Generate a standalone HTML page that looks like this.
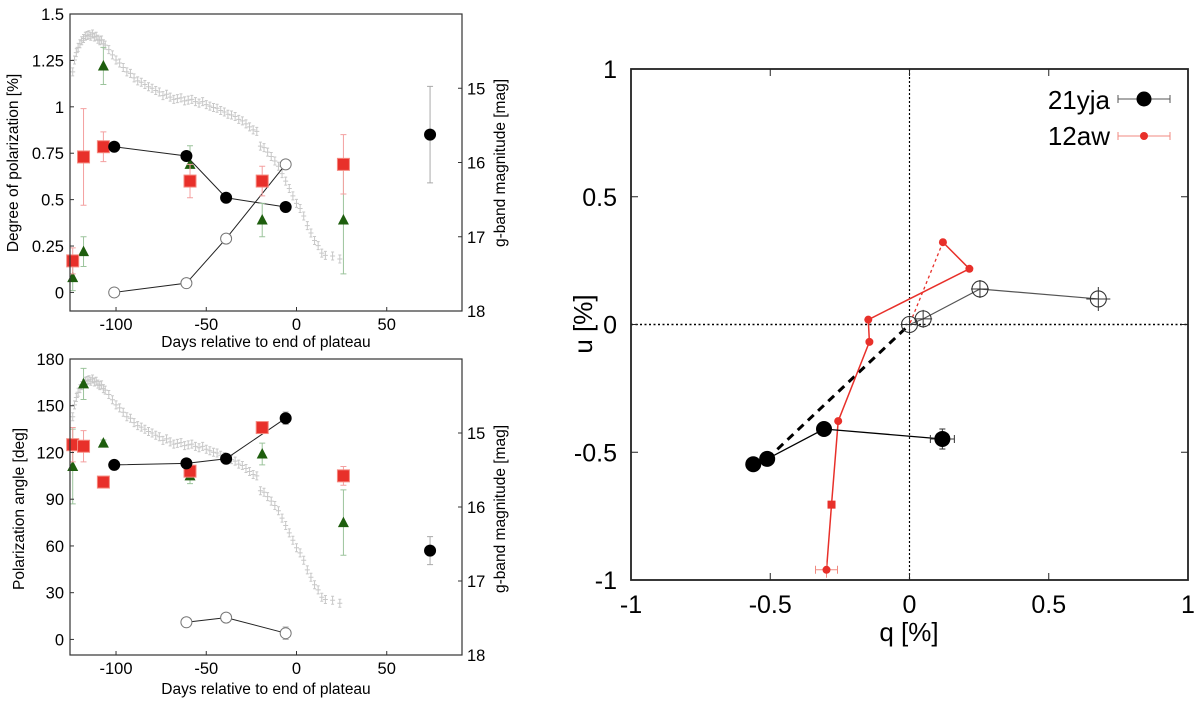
<!DOCTYPE html>
<html><head><meta charset="utf-8"><style>
html,body{margin:0;padding:0;background:#fff;}
svg{display:block;font-family:"Liberation Sans",Arial,sans-serif;}
</style></head><body>
<svg id="fig" width="1200" height="702" viewBox="0 0 1200 702" xmlns="http://www.w3.org/2000/svg"></svg>
<script>
// ---------- data ----------
const lcDays=[-124,-123,-122,-121,-120,-119,-118,-117,-116,-115,-114,-113,-112,-111,-110,-109,-108,-107,-106,-104,-102,-100,-98,-96,-94,-92,-90,-88,-86,-84,-82,-80,-78,-76,-74,-72,-70,-68,-66,-64,-62,-60,-58,-56,-54,-52,-50,-48,-46,-44,-42,-40,-38,-36,-34,-32,-30,-28,-26,-24,-22,-20,-18,-16,-14,-12,-10,-8,-6,-4,-2,0,2,4,6,8,10,12,14,16,20,24];
const lcMag=[14.78,14.62,14.52,14.45,14.40,14.36,14.33,14.30,14.29,14.28,14.30,14.27,14.31,14.30,14.34,14.36,14.35,14.40,14.42,14.48,14.55,14.62,14.66,14.72,14.78,14.80,14.86,14.90,14.92,14.95,14.98,15.00,15.03,15.05,15.10,15.08,15.12,15.15,15.14,15.13,15.17,15.16,15.15,15.18,15.20,15.18,15.22,15.24,15.26,15.27,15.30,15.32,15.35,15.36,15.38,15.42,15.44,15.48,15.52,15.56,15.58,15.78,15.80,15.86,15.92,15.98,16.05,16.15,16.25,16.35,16.45,16.55,16.62,16.72,16.85,16.95,17.05,17.12,17.22,17.25,17.26,17.30];
// polarization degree panel
const pdBlackDays=[-101,-61,-39,-6];
const pdBlackVals=[0.785,0.735,0.51,0.46];
const pdLateDay=[74];const pdLateVal=[0.85];const pdLateErr=[0.26];
const pdOpenDays=[-101,-61,-39,-6];
const pdOpenVals=[0.0,0.05,0.29,0.69];
const pdRedDays=[-124,-118,-107,-59,-19,26];
const pdRedVals=[0.17,0.73,0.785,0.60,0.60,0.69];
const pdRedErr=[0.07,0.26,0.08,0.09,0.08,0.16];
const pdGreenDays=[-124,-118,-107,-59,-19,26];
const pdGreenVals=[0.08,0.22,1.22,0.69,0.39,0.39];
const pdGreenErr=[0.07,0.08,0.10,0.10,0.09,0.29];
// angle panel
const paBlackDays=[-101,-61,-39,-6];
const paBlackVals=[112,113,116,142];
const paLateDay=[74];const paLateVal=[57];const paLateErr=[9];
const paOpenDays=[-61,-39,-6];
const paOpenVals=[11,14,4];
const paRedDays=[-124,-118,-107,-59,-19,26];
const paRedVals=[125,124,101,108,136,105];
const paRedErr=[11,10,1,3,2,6];
const paGreenDays=[-124,-118,-107,-59,-19,26];
const paGreenVals=[111,164,126,105,119,75];
const paGreenErr=[24,10,2,5,7,21];
// q-u plane
const yjaQ=[0.118,-0.307,-0.511,-0.561];
const yjaU=[-0.448,-0.409,-0.526,-0.547];
const yjaOpenQ=[0.0,0.049,0.253,0.678];
const yjaOpenU=[0.0,0.022,0.139,0.100];
const awQ=[0.12,0.215,-0.148,-0.144,-0.256,-0.28,-0.298];
const awU=[0.322,0.218,0.019,-0.068,-0.378,-0.705,-0.96];

// ---------- helpers ----------
const svg=document.getElementById('fig');
const NS='http://www.w3.org/2000/svg';
function mk(tag,attrs,parent){const e=document.createElementNS(NS,tag);for(const k in attrs)e.setAttribute(k,attrs[k]);(parent||svg).appendChild(e);return e;}
function txt(s,x,y,size,anchor,parent,rot){const t=mk('text',{x:x,y:y,'font-size':size,'text-anchor':anchor||'middle',fill:'#000'},parent);if(rot)t.setAttribute('transform','rotate(-90 '+x+' '+y+')');t.textContent=s;return t;}

function leftPanel(name,top,bottom,ymin,ymax){
  const L=70,R=462;
  const g=mk('g',{});
  
  
  const xs=d=>L+(d-(-125.5))/(91.7+125.5)*(R-L);
  const ys=v=>bottom-(v-ymin)/(ymax-ymin)*(bottom-top);
  const ms=m=>bottom-(18-m)/4*(bottom-top);
  const lc=mk('g',{stroke:'#c8c8c8','stroke-width':1},g);
  
  
  const n=Math.min(lcDays.length,lcMag.length);
  for(let i=0;i<n;i++){const x=xs(lcDays[i]),y=ms(lcMag[i]);
    mk('path',{d:`M${x-2.5} ${y}H${x+2.5}M${x} ${y-4}V${y+4}M${x-1.5} ${y-4}H${x+1.5}M${x-1.5} ${y+4}H${x+1.5}`,fill:'none'},lc);}
  return {g,xs,ys,ms,L,R};
}
function axesFrame(p,top,bottom,yticks,yfmt,ytitle,xtitleY,ytitleX,ytitleY){
  const {g,xs,ys,ms,L,R}=p;
  mk('rect',{x:L,y:top,width:R-L,height:bottom-top,fill:'none',stroke:'#333','stroke-width':1.2},g);
  [-100,-50,0,50].forEach(d=>{const x=xs(d);mk('line',{x1:x,x2:x,y1:bottom,y2:bottom-4,stroke:'#333'},g);
    const t=txt(String(d),x,bottom+19,16.5,'middle',g);});
  yticks.forEach(v=>{const y=ys(v);mk('line',{x1:L,x2:L+4,y1:y,y2:y,stroke:'#333'},g);
    const t=txt(yfmt(v),L-6,y+6,16.5,'end',g);});
  [15,16,17,18].forEach(m=>{const y=ms(m);mk('line',{x1:R,x2:R-4,y1:y,y2:y,stroke:'#333'},g);
    const t=txt(String(m),R+5,y+6,16.5,'start',g);});
  const xt=txt('Days relative to end of plateau',(L+R)/2,xtitleY,15.5,'middle',g);
  
  const yt=txt(ytitle,ytitleX,ytitleY,15.5,'middle',g,true);
  
  const mt=txt('g-band magnitude [mag]',505,ytitleY,15.5,'middle',g,true);
  
}
function errbar(g,x,y1,y2,color){mk('path',{d:`M${x} ${y1}V${y2}M${x-3} ${y1}H${x+3}M${x-3} ${y2}H${x+3}`,stroke:color,'stroke-width':1,fill:'none'},g);}
function drawSeries(p,days,vals,errs,kind){
  const {g,xs,ys}=p;
  const sg=mk('g',{},g);
  
  
  days.forEach((d,i)=>{const x=xs(d),y=ys(vals[i]);
    if(errs&&errs[i]){const c=kind==='red'?'#f4a0a0':kind==='green'?'#9cc49c':'#aaa';errbar(sg,x,ys(vals[i]+errs[i]),ys(vals[i]-errs[i]),c);}
    let m;
    if(kind==='red'){m=mk('rect',{x:x-6,y:y-6,width:12,height:12,fill:'#e8302a',stroke:'#f58a80','stroke-width':1},sg);}
    else if(kind==='green'){m=mk('polygon',{points:`${x},${y-6} ${x+5.5},${y+4.5} ${x-5.5},${y+4.5}`,fill:'#1e5e0e'},sg);}
    else if(kind==='open'){m=mk('circle',{cx:x,cy:y,r:5.5,fill:'#fff',stroke:'#777','stroke-width':1},sg);}
    else {m=mk('circle',{cx:x,cy:y,r:6,fill:'#000'},sg);}
    
  });
}
function lineThrough(p,days,vals,color){
  const d=days.map((dd,i)=>(i?'L':'M')+p.xs(dd)+' '+p.ys(vals[i])).join('');
  const l=mk('path',{d:d,stroke:color,'stroke-width':1,fill:'none'},p.g);
  
}

// ---------- top panel ----------
const P1=leftPanel('polarization-degree-panel',14,311,-0.1,1.5);
lineThrough(P1,pdBlackDays,pdBlackVals,'#222');
lineThrough(P1,pdOpenDays,pdOpenVals,'#222');
drawSeries(P1,pdGreenDays,pdGreenVals,pdGreenErr,'green');
drawSeries(P1,pdRedDays,pdRedVals,pdRedErr,'red');
drawSeries(P1,pdBlackDays,pdBlackVals,[0.02,0.02,0.02,0.02],'black');
drawSeries(P1,pdOpenDays,pdOpenVals,[0.02,0.02,0.02,0.02],'open');
drawSeries(P1,pdLateDay,pdLateVal,pdLateErr,'black');
axesFrame(P1,14,311,[0,0.25,0.5,0.75,1,1.25,1.5],v=>String(v),'Degree of polarization [%]',347,18,163);

// ---------- bottom panel ----------
const P2=leftPanel('polarization-angle-panel',359,655,-10,180);
lineThrough(P2,paBlackDays,paBlackVals,'#222');
lineThrough(P2,paOpenDays,paOpenVals,'#222');
drawSeries(P2,paGreenDays,paGreenVals,paGreenErr,'green');
drawSeries(P2,paRedDays,paRedVals,paRedErr,'red');
drawSeries(P2,paBlackDays,paBlackVals,[2,2,2,4],'black');
drawSeries(P2,paOpenDays,paOpenVals,[3,2,4],'open');
drawSeries(P2,paLateDay,paLateVal,paLateErr,'black');
axesFrame(P2,359,655,[0,30,60,90,120,150,180],v=>String(v),'Polarization angle [deg]',694,24,509);

// ---------- q-u panel ----------
(function(){
  const L=631,R=1188,T=69,B=580;
  const g=mk('g',{});
  
  
  const xs=q=>L+(q+1)/2*(R-L);
  const ys=u=>B-(u+1)/2*(B-T);
  mk('line',{x1:xs(0),x2:xs(0),y1:T,y2:B,stroke:'#000','stroke-width':1.2,'stroke-dasharray':'2,2'},g);
  mk('line',{x1:L,x2:R,y1:ys(0),y2:ys(0),stroke:'#000','stroke-width':1.5,'stroke-dasharray':'2,2.5'},g);
  const dl=mk('line',{x1:xs(yjaQ[2]),y1:ys(yjaU[2]),x2:xs(0),y2:ys(0),stroke:'#000','stroke-width':3,'stroke-dasharray':'8,6'},g);
  
  const ad=mk('line',{x1:xs(awQ[0]),y1:ys(awU[0]),x2:xs(0),y2:ys(0),stroke:'#e8302a','stroke-width':1.3,'stroke-dasharray':'3,3'},g);
  
  const ap=mk('path',{d:awQ.map((q,i)=>(i?'L':'M')+xs(q)+' '+ys(awU[i])).join(''),stroke:'#e8302a','stroke-width':1.5,fill:'none'},g);
  
  const yl=mk('path',{d:yjaQ.slice(0,3).map((q,i)=>(i?'L':'M')+xs(q)+' '+ys(yjaU[i])).join(''),stroke:'#000','stroke-width':1.3,fill:'none'},g);
  
  const ol=mk('path',{d:yjaOpenQ.map((q,i)=>(i?'L':'M')+xs(q)+' '+ys(yjaOpenU[i])).join(''),stroke:'#555','stroke-width':1.2,fill:'none'},g);
  
  awQ.forEach((q,i)=>{const x=xs(q),y=ys(awU[i]);
    if(i===awQ.length-1){mk('path',{d:`M${x-11} ${y}H${x+11}M${x-11} ${y-4}V${y+4}M${x+11} ${y-4}V${y+4}M${x} ${y-8}V${y+8}`,stroke:'#f08a80',fill:'none'},g);}
    const c=i===5?mk('rect',{x:x-4,y:y-4,width:8,height:8,fill:'#e8302a'},g):mk('circle',{cx:x,cy:y,r:4,fill:'#e8302a'},g);
    });
  yjaQ.forEach((q,i)=>{const x=xs(q),y=ys(yjaU[i]);
    if(i===0)mk('path',{d:`M${x-12} ${y}H${x+12}M${x-12} ${y-4}V${y+4}M${x+12} ${y-4}V${y+4}M${x} ${y-10}V${y+10}M${x-3} ${y-10}H${x+3}M${x-3} ${y+10}H${x+3}`,stroke:'#333',fill:'none'},g);
    const c=mk('circle',{cx:x,cy:y,r:8,fill:'#000'},g);
    });
  yjaOpenQ.forEach((q,i)=>{const x=xs(q),y=ys(yjaOpenU[i]);
    const e=i===3?12:9;
    mk('path',{d:`M${x-e} ${y}H${x+e}M${x} ${y-e}V${y+e}`,stroke:'#333',fill:'none'},g);
    const c=mk('circle',{cx:x,cy:y,r:8,fill:'none',stroke:'#333','stroke-width':1.1},g);
    });
  mk('rect',{x:L,y:T,width:R-L,height:B-T,fill:'none',stroke:'#222','stroke-width':1.8},g);
  [-1,-0.5,0,0.5,1].forEach(v=>{
    const x=xs(v);mk('line',{x1:x,x2:x,y1:B,y2:B-7,stroke:'#222'},g);mk('line',{x1:x,x2:x,y1:T,y2:T+7,stroke:'#222'},g);
    const t=txt(String(v),x,B+33,25,'middle',g);
    const y=ys(v);mk('line',{x1:L,x2:L+7,y1:y,y2:y,stroke:'#222'},g);mk('line',{x1:R,x2:R-7,y1:y,y2:y,stroke:'#222'},g);
    const t2=txt(String(v),L-14,y+9,25,'end',g);
  });
  const xt=txt('q [%]',909,641,26,'middle',g);
  const yt=txt('u [%]',592,324,26,'middle',g,true);
  const lg=mk('g',{},g);
  const l1=txt('21yja',1110,109,26,'end',lg);
  mk('path',{d:'M1118 99H1170M1118 95V103M1170 95V103',stroke:'#555',fill:'none'},lg);
  mk('circle',{cx:1144,cy:99,r:7.5,fill:'#000'},lg);
  const l2=txt('12aw',1110,145,26,'end',lg);
  mk('path',{d:'M1118 136H1170M1118 132V140M1170 132V140',stroke:'#f08a80',fill:'none'},lg);
  mk('circle',{cx:1144,cy:136,r:4,fill:'#e8302a'},lg);
})();
</script>
</body></html>
